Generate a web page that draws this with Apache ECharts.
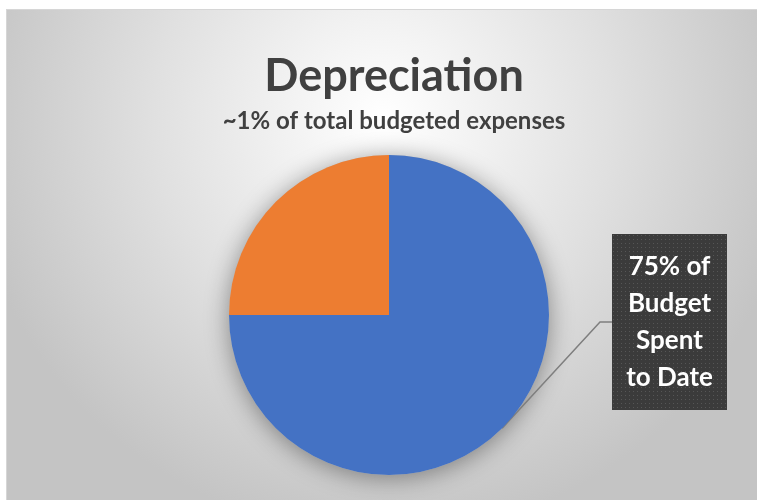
<!DOCTYPE html>
<html>
<head>
<meta charset="utf-8">
<script src="https://cdn.jsdelivr.net/npm/echarts@6/dist/echarts.min.js"></script>
<style>
  html, body { margin: 0; padding: 0; background: #ffffff; }
  #chart {
    position: absolute; left: 6px; top: 9px;
    width: 751px; height: 491px;
    border-left: 1px solid #d6d6d6; border-top: 1px solid #d6d6d6;
  }
</style>
</head>
<body>
<div id="chart"></div>
<script>
// ---- data ----
const titleText = 'Depreciation';
const subtitleText = '~1% of total budgeted expenses';
const categories = ['Spent to Date', 'Remaining'];
const values = [75, 25];
const colors = ['#4472c4', '#ed7d31'];
const calloutLines = ['{d}% of', 'Budget', 'Spent', 'to Date'];

// ---- callout background (dotted dark pattern) ----
const boxW = 115, boxH = 176;
const pat = document.createElement('canvas');
pat.width = boxW; pat.height = boxH;
(function () {
  const c = pat.getContext('2d');
  c.fillStyle = '#3b3b3b';
  c.fillRect(0, 0, boxW, boxH);
  c.fillStyle = '#565656';
  for (let y = 1; y < boxH; y += 4) {
    for (let x = 1; x < boxW; x += 4) c.fillRect(x, y, 1, 1);
  }
})();

const chart = echarts.init(document.getElementById('chart'), null, { renderer: 'canvas' });
const total = values.reduce((a, b) => a + b, 0);
const FONT = 'Lato, "Open Sans", sans-serif';

const option = {
  backgroundColor: {
    type: 'radial', x: 0.5, y: 0.22, r: 0.85,
    colorStops: [
      { offset: 0, color: '#ffffff' },
      { offset: 0.55, color: '#e0e0e0' },
      { offset: 1, color: '#c4c4c4' }
    ]
  },
  title: {
    text: titleText,
    subtext: subtitleText,
    left: 382, top: 39, textAlign: 'center',
    itemGap: 10,
    textStyle: { fontFamily: FONT, fontWeight: 'bold', fontSize: 45, color: '#404040' },
    subtextStyle: { fontFamily: FONT, fontWeight: 'bold', fontSize: 24, color: '#404040' }
  },
  series: [
    {
      // soft drop shadow under the whole pie
      type: 'pie', silent: true, z: 1,
      center: [382, 305], radius: 160,
      label: { show: false }, labelLine: { show: false },
      data: [{ value: total, itemStyle: { color: '#bdbdbd', shadowBlur: 24, shadowColor: 'rgba(0,0,0,0.4)', shadowOffsetY: 3 } }]
    },
    {
      type: 'pie', z: 2,
      center: [382, 305], radius: 160,
      startAngle: 90, clockwise: true,
      animation: false,
      label: { show: false },
      labelLine: { show: false },
      emphasis: { disabled: true },
      data: categories.map((name, i) => ({
        name, value: values[i],
        itemStyle: { color: colors[i] },
        label: i === 0 ? {
          show: true,
          position: 'outside',
          formatter: calloutLines.join('\n'),
          fontFamily: FONT, fontWeight: 'bold', fontSize: 26,
          color: '#ffffff', lineHeight: 37,
          align: 'center',
          width: boxW, padding: [14, 0, 14, 0],
          backgroundColor: { image: pat },
          shadowBlur: 7, shadowColor: 'rgba(0,0,0,0.6)', shadowOffsetX: 4, shadowOffsetY: 4
        } : { show: false },
        labelLine: i === 0 ? { show: true, length: 20, length2: 10, lineStyle: { color: '#7f7f7f', width: 1.5 } } : { show: false }
      })),
      labelLayout: function (params) {
        if (params.dataIndex !== 0) return {};
        const cx = 662.5, cy = 312;
        const start = params.labelLinePoints ? params.labelLinePoints[0] : [382, 305];
        const ex = cx - boxW / 2;
        return {
          x: cx, y: cy, align: 'center', verticalAlign: 'middle',
          labelLinePoints: [start, [ex - 12, cy], [ex, cy]]
        };
      }
    }
  ]
};
chart.setOption(option);
</script>
</body>
</html>
